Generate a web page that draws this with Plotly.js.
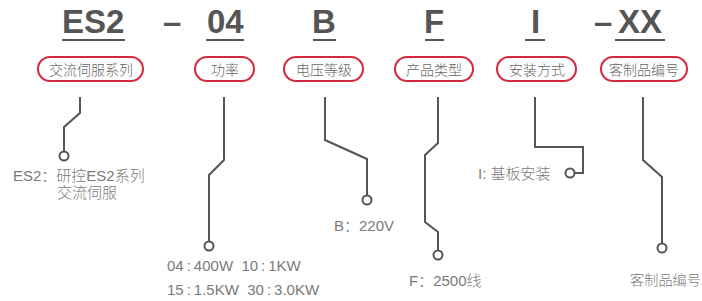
<!DOCTYPE html>
<html><head><meta charset="utf-8">
<script src="https://cdn.plot.ly/plotly-3.0.1.min.js"></script>
<style>html,body{margin:0;padding:0;background:#fff}#c{width:702px;height:301px}</style>
</head><body><div id="c"></div>
<script>
// ---- content ----
const codes = ["ES2", "04", "B", "F", "I", "XX"];
const separators = ["–", "–"];
const categories = ["交流伺服系列", "功率", "电压等级", "产品类型", "安装方式", "客制品编号"];
const descriptions = ["ES2：研控ES2系列", "交流伺服", "04\u2009:\u2009400W&nbsp;&nbsp;10\u2009:\u20091KW", "15\u2009:\u20091.5KW&nbsp;&nbsp;30\u2009:\u20093.0KW", "B：220V", "F：2500线", "I: 基板安装", "客制品编号"];

// ---- geometry (diagram coordinates, px) ----
const codeX = [93, 225, 324, 434, 535, 640];
const underlineX0 = [62, 206, 313, 425, 525, 615];
const underlineX1 = [125, 244, 336, 444, 545, 665];
const sepX = [172, 603];
const pillX0 = [38, 195, 284, 395, 497, 601];
const pillX1 = [143, 254, 363, 473, 576, 687];
const routesX = [[80,80,64,64],[224,224,209,209],[325,325,367,367],[438,438,425,425,438,438],[535,535,583,583,570],[643,643,662,662]];
const routesY = [[97,113,127,156],[97,160,175,246],[97,140,159,200],[97,143,155,222,232,255],[97,147,147,173,173],[97,160,177,248]];
const descX = [11, 55, 165, 165, 332, 407, 553, 628];
const descY = [175, 192, 265, 289, 225, 280, 173, 280];
const descSize = [15, 15, 15, 15, 15, 15, 15, 14.2];
const descAnchor = ["left","left","left","left","left","left","right","left"];

const GRAY = "#555555", RED = "#d5283c";
const traces = [];
routesX.forEach((xs, i) => {
  traces.push({x: xs, y: routesY[i], mode: "lines", line: {color: GRAY, width: 2}, hoverinfo: "skip", showlegend: false});
});
traces.push({
  x: routesX.map(a => a[a.length-1]), y: routesY.map(a => a[a.length-1]),
  mode: "markers", marker: {size: 9, color: "#fff", line: {color: GRAY, width: 2}},
  hoverinfo: "skip", showlegend: false
});

const shapes = [];
codes.forEach((c, i) => {
  shapes.push({type: "line", xref: "x", yref: "y", x0: underlineX0[i], x1: underlineX1[i], y0: 40, y1: 40, line: {color: GRAY, width: 2}});
});
function pill(x0, x1, y0, y1) {
  const r = (y1 - y0) / 2, k = 0.5523 * r;
  return `M ${x0+r},${y0} L ${x1-r},${y0} C ${x1-r+k},${y0} ${x1},${y0+r-k} ${x1},${y0+r} ` +
         `C ${x1},${y0+r+k} ${x1-r+k},${y1} ${x1-r},${y1} L ${x0+r},${y1} ` +
         `C ${x0+r-k},${y1} ${x0},${y0+r+k} ${x0},${y0+r} C ${x0},${y0+r-k} ${x0+r-k},${y0} ${x0+r},${y0} Z`;
}
categories.forEach((c, i) => {
  shapes.push({type: "path", xref: "x", yref: "y", path: pill(pillX0[i], pillX1[i], 57, 81), line: {color: RED, width: 2}});
});

const annotations = [];
const codeFont = {family: "Liberation Sans, Arial, sans-serif", size: 33, color: GRAY, weight: 700};
codes.forEach((c, i) => {
  annotations.push({x: codeX[i], y: 21, xref: "x", yref: "y", text: c, showarrow: false, xanchor: "center", yanchor: "middle", font: codeFont});
});
separators.forEach((s, i) => {
  annotations.push({x: sepX[i], y: 21, xref: "x", yref: "y", text: s, showarrow: false, xanchor: "center", yanchor: "middle", font: codeFont});
});
categories.forEach((c, i) => {
  annotations.push({x: (pillX0[i] + pillX1[i]) / 2, y: 69, xref: "x", yref: "y", text: c, showarrow: false, xanchor: "center", yanchor: "middle",
    font: {family: "Noto Sans CJK SC, sans-serif", size: 14, color: "#666", weight: 300}});
});
descriptions.forEach((d, i) => {
  annotations.push({x: descX[i], y: descY[i], xref: "x", yref: "y", text: d, showarrow: false, xanchor: descAnchor[i], yanchor: "middle",
    font: {family: "Liberation Sans, Noto Sans CJK SC, sans-serif", size: descSize[i], color: "#7a7a7a", weight: 300}});
});

const layout = {
  width: 702, height: 301, margin: {l: 0, r: 0, t: 0, b: 0},
  paper_bgcolor: "#fff", plot_bgcolor: "#fff",
  xaxis: {range: [0, 702], visible: false, fixedrange: true},
  yaxis: {range: [301, 0], visible: false, fixedrange: true},
  shapes: shapes, annotations: annotations, hovermode: false, showlegend: false
};
Plotly.newPlot("c", traces, layout, {displayModeBar: false, staticPlot: true});
</script></body></html>
